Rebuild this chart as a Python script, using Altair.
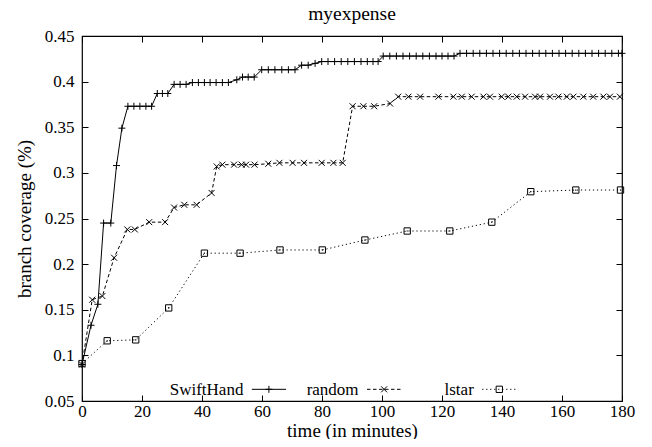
import altair as alt
import pandas as pd

# ---------------- data ----------------
swift_t = [0, 3.0, 5.3, 7.2, 9.6, 11.5, 13.3, 15.3, 17.3, 19.3, 21.3, 23.2, 25.1, 26.8, 28.6,
           30.7, 32.7, 34.7, 36.8, 38.8, 40.8, 42.7, 44.7, 46.8, 48.8, 51.6, 53.5, 55.4, 57.4,
           59.9, 62.1, 64.3, 66.6, 68.8, 71.0, 73.2, 75.4, 77.7, 79.9, 82.0, 84.2, 86.4, 88.6,
           90.8, 93.0, 95.1, 97.0, 98.7, 100.4, 102.6, 104.8, 107.0, 109.2, 111.4, 113.6, 115.8,
           118.0, 120.0, 122.0, 124.0, 126.0, 128.2, 130.4, 132.6, 134.8, 137.0, 139.2, 141.4,
           143.6, 145.8, 148.0, 150.2, 152.4, 154.6, 156.8, 159.0, 161.2, 163.4, 165.6, 167.8,
           170.0, 172.2, 174.4, 176.6, 178.8, 180.0]
swift_y = [0.090, 0.133, 0.156, 0.245, 0.245, 0.308, 0.349, 0.373, 0.373, 0.373, 0.373, 0.373,
           0.387, 0.387, 0.387, 0.397, 0.397, 0.397, 0.399, 0.399, 0.399, 0.399, 0.399, 0.399,
           0.399, 0.402, 0.405, 0.405, 0.405, 0.413, 0.413, 0.413, 0.413, 0.413, 0.413, 0.418,
           0.418, 0.420, 0.422, 0.422, 0.422, 0.422, 0.422, 0.422, 0.422, 0.422, 0.422, 0.422,
           0.428, 0.428, 0.428, 0.428, 0.428, 0.428, 0.428, 0.428, 0.428, 0.428, 0.428, 0.428,
           0.431, 0.431, 0.431, 0.431, 0.431, 0.431, 0.431, 0.431, 0.431, 0.431, 0.431, 0.431,
           0.431, 0.431, 0.431, 0.431, 0.431, 0.431, 0.431, 0.431, 0.431, 0.431, 0.431, 0.431,
           0.431, 0.431]

random_t = [0, 3.4, 6.8, 10.7, 15.1, 17.6, 22.4, 27.7, 30.7, 34.1,
            38.2, 43.2, 44.9, 46.8, 50.7, 53.2, 54.7, 57.5, 62.1, 65.8,
            70.2, 74.0, 79.9, 83.8, 86.9, 90.2, 93.8, 97.4, 102.7, 105.4,
            108.8, 112.7, 118.8, 123.8, 126.6, 129.9, 133.8, 136.0, 139.9, 142.1,
            144.9, 147.7, 151.0, 152.7, 156.0, 158.8, 161.6, 163.8, 167.1, 170.4,
            173.8, 176.0, 179.3]
random_y = [0.090, 0.161, 0.165, 0.207, 0.238, 0.238, 0.246, 0.246, 0.262, 0.265,
            0.265, 0.278, 0.307, 0.309, 0.309, 0.309, 0.309, 0.309, 0.310, 0.311,
            0.311, 0.311, 0.311, 0.311, 0.311, 0.373, 0.373, 0.373, 0.376, 0.3835,
            0.3835, 0.3835, 0.3835, 0.3835, 0.3835, 0.3835, 0.3835, 0.3835, 0.3835, 0.3835,
            0.3835, 0.3835, 0.3835, 0.3835, 0.3835, 0.3835, 0.3835, 0.3835, 0.3835, 0.3835,
            0.3835, 0.3835, 0.3835]

lstar_t = [0, 8.4, 17.9, 28.9, 40.8, 52.7, 66.0, 80.1, 94.3, 108.4, 122.6, 136.6, 149.6, 164.6, 179.5]
lstar_y = [0.091, 0.116, 0.117, 0.152, 0.212, 0.212, 0.2155, 0.2155, 0.2264, 0.2363, 0.2363,
           0.246, 0.2794, 0.2812, 0.2812]

series_names = ["SwiftHand", "random", "lstar"]
x_ticks = [0, 20, 40, 60, 80, 100, 120, 140, 160, 180]
y_ticks = [0.05, 0.1, 0.15, 0.2, 0.25, 0.3, 0.35, 0.4, 0.45]

FONT = "Liberation Serif"
PLUS = "M-1,0L1,0M0,-1L0,1"
CROSS = "M-1,-1L1,1M-1,1L1,-1"

xs = alt.Scale(domain=[0, 180], nice=False, zero=False)
ys = alt.Scale(domain=[0.05, 0.45], nice=False, zero=False)

swift = pd.DataFrame({"t": swift_t, "v": swift_y})
rnd = pd.DataFrame({"t": random_t, "v": random_y})
lst = pd.DataFrame({"t": lstar_t, "v": lstar_y})

common = dict(labelFont=FONT, titleFont=FONT, labelColor="black", titleColor="black",
              titleFontWeight="normal", labelFontWeight="normal")

ax_x_lab = alt.Axis(values=x_ticks, ticks=False, domain=False, grid=False, labelPadding=2,
                    labelFontSize=17, titleFontSize=19,
                    title="time (in minutes)", titlePadding=2, labelFlush=False, **common)
ax_y_lab = alt.Axis(values=y_ticks, ticks=False, domain=False, grid=False, labelPadding=8,
                    labelFontSize=17, titleFontSize=19,
                    format=".2~f", title="branch coverage (%)", titlePadding=10,
                    labelFlush=False, **common)
ax_x_bot = alt.Axis(orient="bottom", values=x_ticks, labels=False, ticks=True, tickSize=6,
                    offset=-6, domain=False, grid=False, title=None)
ax_y_left = alt.Axis(orient="left", values=y_ticks, labels=False, ticks=True, tickSize=6,
                     offset=-6, domain=False, grid=False, title=None)
ax_x_top = alt.Axis(orient="top", values=x_ticks, labels=False, ticks=True, tickSize=6,
                    offset=-6, domain=False, grid=False, title=None)
ax_y_right = alt.Axis(orient="right", values=y_ticks, labels=False, ticks=True, tickSize=6,
                      offset=-6, domain=False, grid=False, title=None)

line_swift = alt.Chart(swift).mark_line(color="black", strokeWidth=1).encode(
    x=alt.X("t:Q", scale=xs, axis=ax_x_lab),
    y=alt.Y("v:Q", scale=ys, axis=ax_y_lab))
line_rnd = alt.Chart(rnd).mark_line(color="black", strokeWidth=1, strokeDash=[3.5, 2.5]).encode(
    x=alt.X("t:Q", scale=xs, axis=ax_x_bot),
    y=alt.Y("v:Q", scale=ys, axis=ax_y_left))
line_lst = alt.Chart(lst).mark_line(color="black", strokeWidth=1, strokeDash=[1.2, 2.8]).encode(
    x=alt.X("t:Q", scale=xs, axis=ax_x_top),
    y=alt.Y("v:Q", scale=ys, axis=ax_y_right))

def pts(df, shape, size):
    return alt.Chart(df).mark_point(shape=shape, size=size, filled=False, stroke="black",
                                    strokeWidth=1, opacity=1).encode(
        x=alt.X("t:Q", scale=xs, axis=None),
        y=alt.Y("v:Q", scale=ys, axis=None))

pts_swift = pts(swift, PLUS, 49)
pts_rnd = pts(rnd, CROSS, 36)
pts_lst = pts(lst, "square", 40)
dot_lst = alt.Chart(lst).mark_point(shape="square", size=1.5, filled=True, color="black",
                                    opacity=1).encode(
    x=alt.X("t:Q", scale=xs, axis=None), y=alt.Y("v:Q", scale=ys, axis=None))

# ---------------- key (gnuplot style, inside bottom) ----------------
key_y = 0.0628
key_rows = []
for i, name in enumerate(series_names):
    end = 68.0 + 38.4 * i
    start = end - 11.4
    key_rows.append({"name": name, "tx": start - 2.8, "x0": start, "x1": end,
                     "xm": (start + end) / 2, "y": key_y})
key = pd.DataFrame(key_rows)

key_text = alt.Chart(key).mark_text(align="right", baseline="middle", font=FONT, fontSize=17,
                                    fontWeight="normal", color="black", dy=1).encode(
    x=alt.X("tx:Q", scale=xs, axis=None), y=alt.Y("y:Q", scale=ys, axis=None), text="name:N")

def key_line(name, dash):
    kw = dict(color="black", strokeWidth=1)
    if dash:
        kw["strokeDash"] = dash
    return alt.Chart(key[key.name == name]).mark_rule(**kw).encode(
        x=alt.X("x0:Q", scale=xs, axis=None), x2="x1:Q", y=alt.Y("y:Q", scale=ys, axis=None))

def key_pt(name, shape, size):
    return alt.Chart(key[key.name == name]).mark_point(shape=shape, size=size, filled=False,
                                                       stroke="black", strokeWidth=1, opacity=1).encode(
        x=alt.X("xm:Q", scale=xs, axis=None), y=alt.Y("y:Q", scale=ys, axis=None))

key_layers = [key_text,
              key_line("SwiftHand", None), key_pt("SwiftHand", PLUS, 49),
              key_line("random", [3.5, 2.5]), key_pt("random", CROSS, 36),
              key_line("lstar", [1.2, 2.8]), key_pt("lstar", "square", 40)]

chart = alt.layer(
    line_swift, line_rnd, line_lst, pts_swift, pts_rnd, pts_lst, dot_lst, *key_layers
).resolve_axis(x="independent", y="independent").properties(
    width=540, height=365,
    title=alt.TitleParams("myexpense", font=FONT, fontSize=19.5, fontWeight="normal",
                          anchor="middle", frame="group", offset=12, dy=9, color="black"),
    autosize=alt.AutoSizeParams(type="none"),
    padding={"left": 74, "top": 28, "right": 22, "bottom": 38},
).configure(font=FONT).configure_view(stroke="black", strokeWidth=1.2).configure_axis(
    tickColor="black", tickWidth=1
)

chart.save("out.html", embed_options={"renderer": "svg", "actions": False})
